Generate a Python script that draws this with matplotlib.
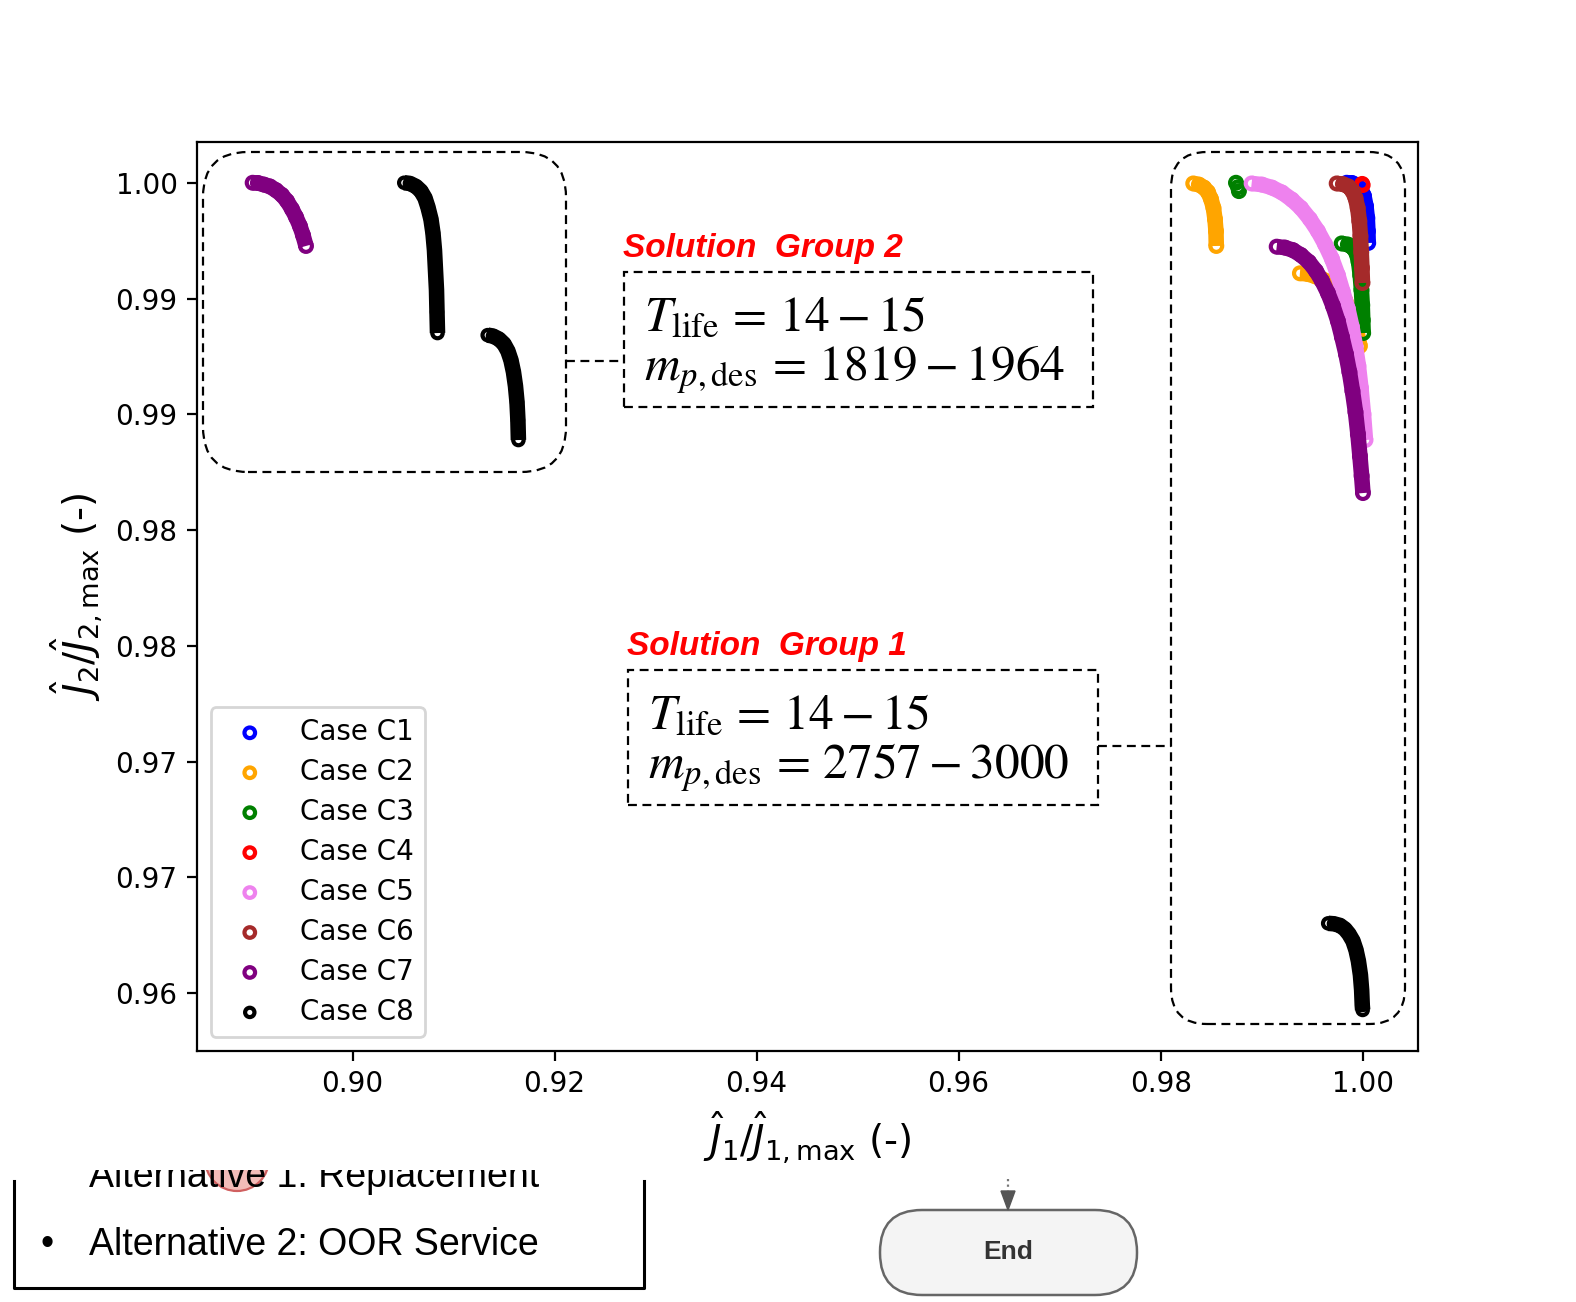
import matplotlib.pyplot as plt
from matplotlib.patches import FancyBboxPatch, Rectangle, Ellipse, Polygon
from matplotlib.lines import Line2D

# ---------------- data ----------------
case_names = ['Case C1', 'Case C2', 'Case C3', 'Case C4',
              'Case C5', 'Case C6', 'Case C7', 'Case C8']
case_colors = ['blue', 'orange', 'green', 'red',
               'violet', 'brown', 'purple', 'black']

c1_x = [0.99842, 0.99894, 0.99944, 0.99983, 1.00013, 1.00033, 1.00046, 1.00052, 1.00055]
c1_y = [1.00000, 0.99999, 0.99990, 0.99973, 0.99943, 0.99899, 0.99848, 0.99791, 0.99740]

c2a_x = [0.98323, 0.98379, 0.98429, 0.98468, 0.98498, 0.98523, 0.98538, 0.98548, 0.98551]
c2a_y = [0.99997, 0.99992, 0.99979, 0.99960, 0.99930, 0.99891, 0.99843, 0.99791, 0.99727]
c2b_x = [0.99379, 0.99458, 0.99538, 0.99617, 0.99696, 0.99765, 0.99825, 0.99874, 0.99914, 0.99944, 0.99973]
c2b_y = [0.99609, 0.99606, 0.99595, 0.99580, 0.99556, 0.99528, 0.99494, 0.99450, 0.99403, 0.99355, 0.99295]

c3a_x = [0.98746, 0.98766, 0.98775]
c3a_y = [1.00000, 0.99981, 0.99964]
c3b_x = [0.99792, 0.99854, 0.99904, 0.99939, 0.99960, 0.99976, 0.99988, 0.99996, 1.00001, 1.00005]
c3b_y = [0.99738, 0.99733, 0.99720, 0.99696, 0.99658, 0.99601, 0.99537, 0.99472, 0.99407, 0.99351]

c4_x = [0.99995, 1.00000]
c4_y = [0.99995, 0.99990]

c5_x = [0.98901, 0.99003, 0.99102, 0.99201, 0.99300, 0.99389, 0.99478, 0.99557, 0.99627, 0.99696,
        0.99755, 0.99805, 0.99854, 0.99894, 0.99929, 0.99958, 0.99983, 1.00008, 1.00028]
c5_y = [0.99997, 0.99992, 0.99979, 0.99958, 0.99927, 0.99891, 0.99843, 0.99791, 0.99735, 0.99671,
        0.99601, 0.99528, 0.99455, 0.99377, 0.99295, 0.99209, 0.99114, 0.99001, 0.98889]

c6_x = [0.99743, 0.99805, 0.99859, 0.99899, 0.99929, 0.99951, 0.99967, 0.99978, 0.99986, 0.99993, 0.99998]
c6_y = [0.99997, 0.99994, 0.99984, 0.99964, 0.99934, 0.99891, 0.99835, 0.99770, 0.99701, 0.99632, 0.99567]

c7a_x = [0.89011, 0.89063, 0.89123, 0.89182, 0.89242, 0.89301, 0.89351, 0.89400, 0.89440, 0.89479, 0.89509, 0.89539]
c7a_y = [1.00000, 0.99999, 0.99992, 0.99984, 0.99968, 0.99947, 0.99921, 0.99886, 0.99852, 0.99813, 0.99774, 0.99727]
c7b_x = [0.99149, 0.99231, 0.99310, 0.99389, 0.99468, 0.99538, 0.99597, 0.99656, 0.99706, 0.99755,
         0.99795, 0.99835, 0.99869, 0.99899, 0.99929, 0.99953, 0.99973, 0.99990, 1.00003]
c7b_y = [0.99724, 0.99720, 0.99709, 0.99688, 0.99658, 0.99619, 0.99576, 0.99524, 0.99468, 0.99403,
         0.99334, 0.99260, 0.99183, 0.99101, 0.99010, 0.98915, 0.98820, 0.98734, 0.98660]

c8a_x = [0.90512, 0.90568, 0.90628, 0.90677, 0.90717, 0.90746, 0.90776, 0.90796, 0.90811, 0.90821,
         0.90831, 0.90836, 0.90841]
c8a_y = [1.00000, 0.99997, 0.99984, 0.99964, 0.99934, 0.99895, 0.99843, 0.99783, 0.99709, 0.99623,
         0.99537, 0.99442, 0.99351]
c8b_x = [0.91338, 0.91390, 0.91449, 0.91499, 0.91538, 0.91568, 0.91593, 0.91613, 0.91628, 0.91637, 0.91642]
c8b_y = [0.99342, 0.99338, 0.99325, 0.99304, 0.99273, 0.99234, 0.99183, 0.99122, 0.99053, 0.98975, 0.98889]
c8c_x = [0.99659, 0.99716, 0.99775, 0.99825, 0.99864, 0.99904, 0.99934, 0.99958, 0.99978, 0.99990, 0.99996, 1.00000]
c8c_y = [0.96802, 0.96800, 0.96793, 0.96777, 0.96756, 0.96726, 0.96687, 0.96639, 0.96579, 0.96514, 0.96449, 0.96428]

xticks = [0.90, 0.92, 0.94, 0.96, 0.98, 1.00]
xtick_labels = ['0.90', '0.92', '0.94', '0.96', '0.98', '1.00']
yticks = [1.000, 0.995, 0.990, 0.985, 0.980, 0.975, 0.970, 0.965]
ytick_labels = ['1.00', '0.99', '0.99', '0.98', '0.98', '0.97', '0.97', '0.96']

group2_lines = [r'$T_{\mathrm{life}}\,=\,14-15$', r'$m_{p,\mathrm{des}}\,=\,1819-1964$']
group1_lines = [r'$T_{\mathrm{life}}\,=\,14-15$', r'$m_{p,\mathrm{des}}\,=\,2757-3000$']

segments = [
    [(c1_x, c1_y)],
    [(c2a_x, c2a_y), (c2b_x, c2b_y)],
    [(c3a_x, c3a_y), (c3b_x, c3b_y)],
    [(c4_x, c4_y)],
    [(c5_x, c5_y)],
    [(c6_x, c6_y)],
    [(c7a_x, c7a_y), (c7b_x, c7b_y)],
    [(c8a_x, c8a_y), (c8b_x, c8b_y), (c8c_x, c8c_y)],
]
marker_sizes = [18, 18, 18, 18, 18, 18, 18, 14]

# ---------------- figure ----------------
W, H, DPI = 1576, 1302, 200


def px(x, y):
    # picture pixels -> figure inches (origin bottom left)
    return x / DPI, (H - y) / DPI


fig = plt.figure(figsize=(W / DPI, H / DPI), dpi=DPI)
ax = fig.add_axes([197 / W, 1 - 1050.7 / H, (1417.7 - 197) / W, (1050.7 - 142) / H])

for i, (name, color, segs) in enumerate(zip(case_names, case_colors, segments)):
    z = 2 + i * 0.1
    for j, (sx, sy) in enumerate(segs):
        if len(sx) >= 4:
            ax.plot(sx, sy, color=color, lw=5.6, solid_capstyle='butt',
                    solid_joinstyle='round', zorder=z)
        ax.scatter(sx, sy, s=marker_sizes[i], facecolors='none', edgecolors=color,
                   linewidths=1.5, zorder=z + 0.05,
                   label=name if j == 0 else '_nolegend_')

ax.set_xlim(0.8846, 1.00545)
ax.set_ylim(0.96252, 1.00176)
ax.set_xticks(xticks)
ax.set_xticklabels(xtick_labels)
ax.set_yticks(yticks)
ax.set_yticklabels(ytick_labels)
ax.tick_params(labelsize=10)
ax.set_xlabel(r'$\hat{J}_1/\hat{J}_{1,\max}$ (-)', fontsize=14)
ax.set_ylabel(r'$\hat{J}_2/\hat{J}_{2,\max}$ (-)', fontsize=14)
ax.legend(loc='lower left', fontsize=10, labelspacing=0.43, markerscale=0.9)

# ---------------- annotations (figure pixels) ----------------
tr = fig.dpi_scale_trans
dash = (0, (4, 2.5))


def rounded_box(x0, y0, x1, y1, r):
    p = FancyBboxPatch(px(x0, y1), (x1 - x0) / DPI, (y1 - y0) / DPI,
                       boxstyle=f'round,pad=0,rounding_size={r / DPI}',
                       transform=tr, fill=False, ec='black', lw=0.8, ls=dash, zorder=5)
    fig.add_artist(p)


def text_box(x0, y0, x1, y1):
    p = Rectangle(px(x0, y1), (x1 - x0) / DPI, (y1 - y0) / DPI, transform=tr,
                  fill=False, ec='black', lw=0.8, ls=dash, zorder=5)
    fig.add_artist(p)


def hline(x0, x1, y):
    a, b = px(x0, y)
    c, _ = px(x1, y)
    fig.add_artist(Line2D([a, c], [b, b], transform=tr, color='black', lw=0.8, ls=dash, zorder=5))


rounded_box(203, 152, 566, 472, 45)
rounded_box(1171, 152, 1405, 1024, 36)

text_box(624, 272, 1093, 407)
text_box(628, 670, 1098, 805)
hline(566, 624, 361)
hline(1098, 1171, 746)

for title, top, left, lines in [('Solution  Group 2', 272, 624, group2_lines),
                                ('Solution  Group 1', 670, 628, group1_lines)]:
    fig.text(*px(left - 1, top - 15), title, transform=tr, color='red', fontsize=12,
             fontweight='bold', fontstyle='italic', family='Liberation Sans',
             va='baseline', ha='left', zorder=6)
    for k, line in enumerate(lines):
        fig.text(*px(left + 20, top + 58 + 50 * k), line, transform=tr, fontsize=17.8,
                 math_fontfamily='stix', va='baseline', ha='left', zorder=6)

# ---------------- leftover pieces of the flowchart below ----------------
fig.add_artist(Ellipse(px(237, 1159), 64 / DPI, 64 / DPI, transform=tr,
                       fc='#f3bcb8', ec='#d06060', lw=0.8, zorder=-3))
fig.text(*px(89, 1187), 'Alternative 1: Replacement', transform=tr, fontsize=13.5,
         family='Liberation Sans', va='baseline', ha='left', zorder=-2)
fig.add_artist(Rectangle((0, (H - 1170) / DPI), W / DPI, 1170 / DPI, transform=tr,
                         fc='white', ec='none', zorder=-1))
bx = [px(14, 1181), px(14, 1288), px(644, 1288), px(644, 1181)]
fig.add_artist(Line2D([p[0] for p in bx], [p[1] for p in bx], transform=tr,
                      color='black', lw=1.1, zorder=1))
fig.text(*px(40, 1255), '\u2022', transform=tr, fontsize=13.5,
         family='Liberation Sans', va='baseline', ha='left')
fig.text(*px(89, 1255), 'Alternative 2: OOR Service', transform=tr, fontsize=13.5,
         family='Liberation Sans', va='baseline', ha='left')

fig.add_artist(FancyBboxPatch(px(880, 1295), (1137 - 880) / DPI, (1295 - 1210) / DPI,
                              boxstyle=f'round,pad=0,rounding_size={42 / DPI}',
                              transform=tr, fc='#f4f4f4', ec='#666666', lw=0.9))
fig.text(*px(1008, 1252), 'End', transform=tr, fontsize=9.5, fontweight='bold',
         color='#333333', family='Liberation Sans', ha='center', va='center')
s0, s1 = px(1008, 1179), px(1008, 1191)
fig.add_artist(Line2D([s0[0], s1[0]], [s0[1], s1[1]], transform=tr,
                      color='#777777', lw=0.8, ls=(0, (1, 1.5))))
fig.add_artist(Polygon([px(1001, 1191), px(1015, 1191), px(1008, 1210)], closed=True,
                       transform=tr, fc='#555555', ec='#555555', lw=0.5))

fig.savefig('out.png', dpi=DPI)
